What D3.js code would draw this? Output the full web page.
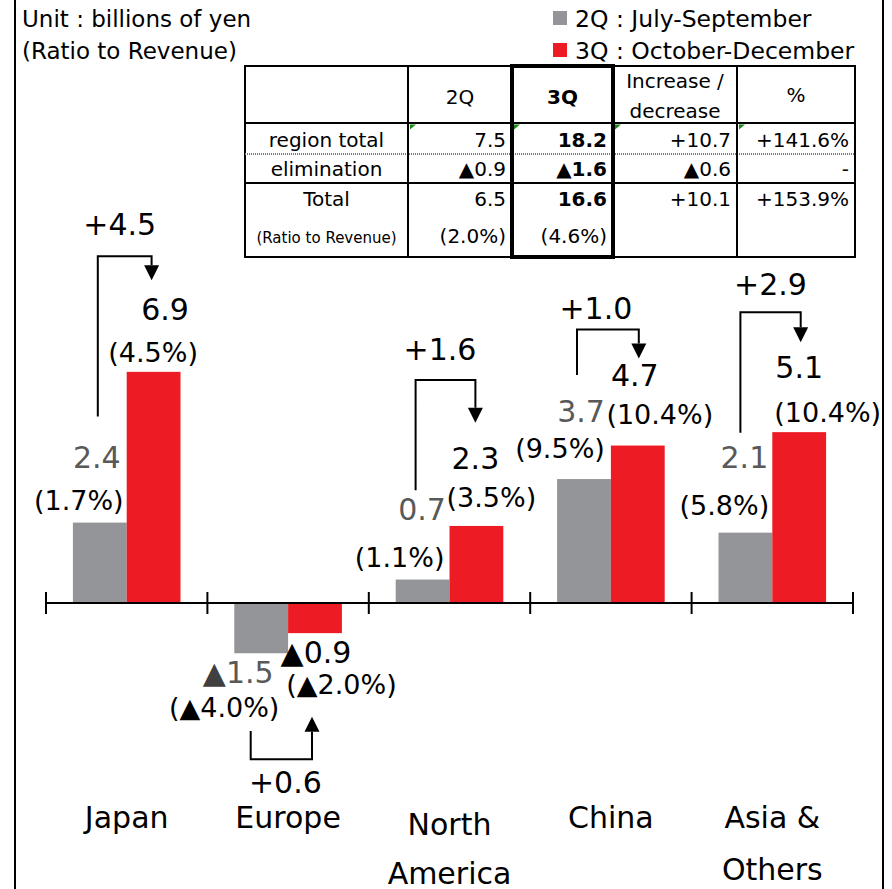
<!DOCTYPE html>
<html><head><meta charset="utf-8">
<script src="https://cdn.jsdelivr.net/npm/d3@7"></script>
<style>
html,body{margin:0;padding:0;background:#fff;}
svg{display:block;font-family:"DejaVu Sans","Verdana",sans-serif;}
</style></head>
<body><svg id="chart" width="892" height="889"></svg>
<script>
// ---------- data ----------
const categories = ["Japan", "Europe", "North America", "China", "Asia & Others"];
const categoryLines = [["Japan"], ["Europe"], ["North", "America"], ["China"], ["Asia &", "Others"]];
const series = ["2Q", "3Q"];
const q2Values = [2.4, -1.5, 0.7, 3.7, 2.1];
const q3Values = [6.9, -0.9, 2.3, 4.7, 5.1];
const q2Ratio = [1.7, -4.0, 1.1, 9.5, 5.8];
const q3Ratio = [4.5, -2.0, 3.5, 10.4, 10.4];
const changes = [4.5, 0.6, 1.6, 1.0, 2.9];
const legendLabels = ["2Q : July-September", "3Q : October-December"];

const tableHeaders = [[""], ["2Q"], ["3Q"], ["Increase /", "decrease"], ["%"]];
const tableRowLabels = ["region total", "elimination", "Total", "(Ratio to Revenue)"];
const table2Q = ["7.5", "▲0.9", "6.5", "(2.0%)"];
const table3Q = ["18.2", "▲1.6", "16.6", "(4.6%)"];
const tableChange = ["+10.7", "▲0.6", "+10.1", ""];
const tablePct = ["+141.6%", "-", "+153.9%", ""];

// ---------- layout ----------
const COL_GRAY = "#939598", COL_RED = "#ED1C24", TXT_GRAY = "#595959";
const fmtVal = v => (v < 0 ? "▲" : "") + Math.abs(v).toFixed(1);
const fmtPct = v => "(" + (v < 0 ? "▲" : "") + Math.abs(v).toFixed(1) + "%)";
const fmtChg = v => "+" + v.toFixed(1);

// label offsets [dx from bar centre, dy from bar end]
const grayValOff = [[-3, -55], [-23, 30], [-0.5, -60], [-3, -57], [-1, -65]];
const grayPctOff = [[-21, -13], [-37, 64], [-23, -13], [-24, -21], [-21, -18]];
const redValOff  = [[11.5, -52], [1, 30], [-1, -57], [-3, -60], [0, -54]];
const redPctOff  = [[-0.5, -10], [26.5, 61], [15, -19], [22, -22], [28.5, -10]];
// bracket: gxOff, startOff(gray end), rxOff, midOff(red end), tipOff(red end), labelDx, labelDy
const bracketOff = [
  [-2, -106, -2, -115.7, -91.7, -5, -21],
  [-10.5, 77.7, -3, 126, 83.7, 4, 33.7],
  [-7, -89.3, -1, -146, -103.3, -5.5, -20],
  [-7, -104, 1, -116, -87, -12, -11],
  [-5, -100, 1.5, -120, -90, 0, -17]
];

const svg = d3.select("#chart");

// frame
svg.append("line").attr("x1", 15).attr("x2", 15).attr("y1", 0).attr("y2", 889).attr("stroke", "#000").attr("stroke-width", 2);
svg.append("line").attr("x1", 883).attr("x2", 883).attr("y1", 0).attr("y2", 889).attr("stroke", "#000").attr("stroke-width", 2);

// scales
const x = d3.scaleBand().domain(categories).range([46, 853]);
const xs = d3.scaleBand().domain(series).range([0, x.bandwidth()]).paddingOuter(0.5);
const y = d3.scaleLinear().domain([-5, 10]).range([603 + 5 * 33.5, 603 - 10 * 33.5]);

const rows = categories.map((c, i) => ({c, i, q2: q2Values[i], q3: q3Values[i]}));

// bars
const g = svg.append("g");
rows.forEach(r => {
  [["2Q", r.q2, COL_GRAY], ["3Q", r.q3, COL_RED]].forEach(([s, v, col]) => {
    g.append("rect")
      .attr("x", x(r.c) + xs(s))
      .attr("width", xs.bandwidth())
      .attr("y", Math.min(y(v), y(0)))
      .attr("height", Math.abs(y(v) - y(0)))
      .attr("fill", col);
  });
});

// axis line + ticks at band boundaries
svg.append("line").attr("x1", x.range()[0]).attr("x2", x.range()[1])
  .attr("y1", y(0)).attr("y2", y(0)).attr("stroke", "#000").attr("stroke-width", 2);
const tickXs = categories.map(c => x(c)).concat([x.range()[1]]);
svg.selectAll(".tk").data(tickXs).enter().append("line")
  .attr("x1", d => d).attr("x2", d => d)
  .attr("y1", y(0) - 11).attr("y2", y(0) + 11)
  .attr("stroke", "#000").attr("stroke-width", 2);

// category labels
rows.forEach(r => {
  const lines = categoryLines[r.i];
  const t = svg.append("text").attr("text-anchor", "middle").attr("font-size", 30).attr("fill", "#000");
  const base = r.c === "North America" ? 835 : 828;
  lines.forEach((l, k) => {
    t.append("tspan").attr("x", x(r.c) + x.bandwidth() / 2).attr("y", base + k * (r.c === "North America" ? 49 : 52)).text(l);
  });
});

// value labels
function addLabel(str, cx, cy, size, fill, triFill) {
  const t = svg.append("text").attr("x", cx).attr("y", cy).attr("text-anchor", "middle")
    .attr("font-size", size).attr("fill", fill);
  if (triFill && str.indexOf("▲") >= 0) {
    const k = str.indexOf("▲");
    if (k > 0) t.append("tspan").text(str.slice(0, k));
    t.append("tspan").attr("fill", triFill).text("▲");
    t.append("tspan").text(str.slice(k + 1));
  } else t.text(str);
}
rows.forEach(r => {
  const gc = x(r.c) + xs("2Q") + xs.bandwidth() / 2;
  const rc = x(r.c) + xs("3Q") + xs.bandwidth() / 2;
  const ge = y(r.q2), re = y(r.q3);
  addLabel(fmtVal(r.q2), gc + grayValOff[r.i][0], ge + grayValOff[r.i][1], 30, TXT_GRAY, "#404040");
  addLabel(fmtPct(q2Ratio[r.i]), gc + grayPctOff[r.i][0], ge + grayPctOff[r.i][1], 27, "#000");
  addLabel(fmtVal(r.q3), rc + redValOff[r.i][0], re + redValOff[r.i][1], 30, "#000");
  addLabel(fmtPct(q3Ratio[r.i]), rc + redPctOff[r.i][0], re + redPctOff[r.i][1], 27, "#000");

  // bracket arrows
  const b = bracketOff[r.i];
  const gx = gc + b[0], sy = ge + b[1], rx = rc + b[2], my = re + b[3], ty = re + b[4];
  const dir = ty > my ? 1 : -1;
  const baseY = ty - dir * 15;
  svg.append("path")
    .attr("d", `M${gx},${sy}V${my}H${rx}V${baseY}`)
    .attr("fill", "none").attr("stroke", "#000").attr("stroke-width", 2);
  svg.append("path")
    .attr("d", `M${rx - 7.5},${baseY}L${rx + 7.5},${baseY}L${rx},${ty}Z`)
    .attr("fill", "#000");
  addLabel(fmtChg(changes[r.i]), (gx + rx) / 2 + b[5], my + b[6], 30, "#000");
});

// unit text
svg.append("text").attr("x", 22).attr("y", 27).attr("font-size", 23).text("Unit : billions of yen");
svg.append("text").attr("x", 22).attr("y", 59).attr("font-size", 23).text("(Ratio to Revenue)");

// legend
const lg = svg.append("g");
legendLabels.forEach((l, k) => {
  lg.append("rect").attr("x", 553).attr("y", 11 + k * 32).attr("width", 14).attr("height", 14)
    .attr("fill", k === 0 ? COL_GRAY : COL_RED);
  lg.append("text").attr("x", 575).attr("y", 27 + k * 31.5).attr("font-size", 23.5).text(l);
});

// table
const colX = [245, 408, 512, 613, 737, 855];
const rowY = [66, 123, 154, 183, 257];
const tb = svg.append("g");
tb.append("rect").attr("x", colX[0]).attr("y", rowY[0]).attr("width", colX[5] - colX[0]).attr("height", rowY[4] - rowY[0])
  .attr("fill", "#fff").attr("stroke", "#000").attr("stroke-width", 2);
// dotted separator
tb.append("line").attr("x1", colX[0]).attr("x2", colX[5]).attr("y1", rowY[2]).attr("y2", rowY[2])
  .attr("stroke", "#777").attr("stroke-width", 2).attr("stroke-dasharray", "1 1");
[rowY[1], rowY[3]].forEach(yy => tb.append("line").attr("x1", colX[0]).attr("x2", colX[5]).attr("y1", yy).attr("y2", yy)
  .attr("stroke", "#000").attr("stroke-width", 2));
[colX[1], colX[4]].forEach(xx => tb.append("line").attr("x1", xx).attr("x2", xx).attr("y1", rowY[0]).attr("y2", rowY[4])
  .attr("stroke", "#000").attr("stroke-width", 2));
tb.append("rect").attr("x", colX[2]).attr("y", rowY[0]).attr("width", colX[3] - colX[2]).attr("height", rowY[4] - rowY[0])
  .attr("fill", "none").attr("stroke", "#000").attr("stroke-width", 4);
// green comment markers
[colX[1], colX[2], colX[3], colX[4]].forEach(xx => tb.append("path")
  .attr("d", `M${xx + 2},${rowY[1] + 1.5}h6l-6,5z`).attr("fill", "#1a8a1a"));

// headers
tableHeaders.forEach((h, k) => {
  if (!h[0]) return;
  const cx = (colX[k] + colX[k + 1]) / 2;
  const t = tb.append("text").attr("text-anchor", "middle").attr("font-size", 20)
    .attr("font-weight", k === 2 ? "bold" : "normal");
  if (h.length === 1) t.attr("x", cx).attr("y", k === 4 ? 102 : 104).text(h[0]);
  else h.forEach((l, j) => t.append("tspan").attr("x", cx).attr("y", 88 + j * 30).text(l));
});
const rowBase = [147, 176, 206, 243];
tableRowLabels.forEach((l, k) => {
  tb.append("text").attr("x", (colX[0] + colX[1]) / 2).attr("y", rowBase[k]).attr("text-anchor", "middle")
    .attr("font-size", k === 3 ? 15 : 20).text(l);
});
[table2Q, table3Q, tableChange, tablePct].forEach((col, c) => {
  col.forEach((v, k) => {
    if (!v) return;
    tb.append("text").attr("x", colX[c + 2] - 6).attr("y", rowBase[k]).attr("text-anchor", "end")
      .attr("font-size", 20).attr("font-weight", (c === 1 && k < 3) ? "bold" : "normal").text(v);
  });
});
</script></body></html>
